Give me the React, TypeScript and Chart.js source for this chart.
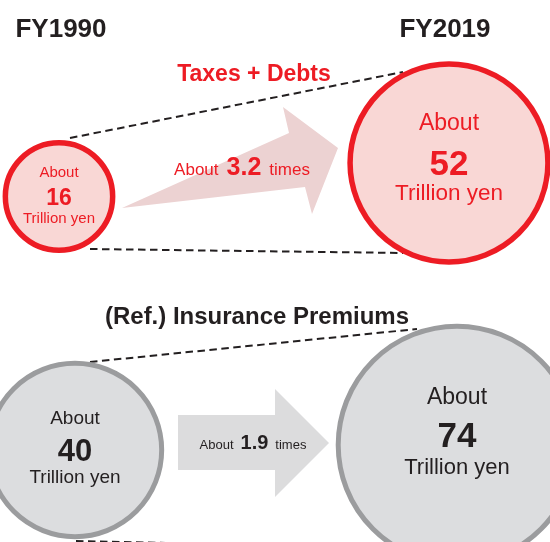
import React, { useEffect, useRef } from "react";
import { Chart, registerables } from "chart.js";

Chart.register(...registerables);

// ---- data ----
const years = ["FY1990", "FY2019"];
const groupTitles = ["Taxes + Debts", "(Ref.) Insurance Premiums"];
const taxesAndDebts = [16, 52]; // trillion yen
const insurancePremiums = [40, 74]; // trillion yen
const multiples = ["3.2", "1.9"];
const aboutLabel = "About";
const unitLabel = "Trillion yen";
const timesLabel = "times";

// ---- layout / style ----
const W = 550;
const H = 542;
const K = 14.1; // outer radius per sqrt(trillion yen)
const FONT = "'Liberation Sans', Arial, Helvetica, sans-serif";
const RED = "#ed1c24";
const RED_FILL = "#f9d7d5";
const RED_ARROW = "#ecd2d2";
const GREY = "#9b9c9e";
const GREY_FILL = "#dcdddf";
const GREY_ARROW = "#dcdcdd";
const DARK = "#231f20";

const redCenters = [
  { x: 59, y: 196.5 },
  { x: 449, y: 163 },
];
const greyCenters = [
  { x: 75, y: 450 },
  { x: 457, y: 445 },
];
const RED_BW = 5.5;
const GREY_BW = 5;

// text offsets relative to bubble centre: [baseline offset, font size]
const labelStyles = [
  [
    { about: [-19.5, 15], value: [8.5, 23], unit: [26.5, 15] },
    { about: [-33, 23], value: [12, 35], unit: [37, 22.5] },
  ],
  [
    { about: [-26, 19], value: [11, 31], unit: [33, 19] },
    { about: [-41, 23], value: [2, 35], unit: [29, 22] },
  ],
];

function font(size: number, bold = false) {
  return `${bold ? "bold " : ""}${size}px ${FONT}`;
}

function poly(ctx: CanvasRenderingContext2D, pts: number[][], color: string) {
  ctx.beginPath();
  ctx.moveTo(pts[0][0], pts[0][1]);
  for (let i = 1; i < pts.length; i++) ctx.lineTo(pts[i][0], pts[i][1]);
  ctx.closePath();
  ctx.fillStyle = color;
  ctx.fill();
}

function dashed(ctx: CanvasRenderingContext2D, a: number[], b: number[]) {
  ctx.save();
  ctx.beginPath();
  ctx.setLineDash([7.5, 4.5]);
  ctx.lineWidth = 2;
  ctx.strokeStyle = DARK;
  ctx.moveTo(a[0], a[1]);
  ctx.lineTo(b[0], b[1]);
  ctx.stroke();
  ctx.restore();
}

function text(
  ctx: CanvasRenderingContext2D,
  s: string,
  x: number,
  y: number,
  f: string,
  color: string,
  align: CanvasTextAlign = "center"
) {
  ctx.font = f;
  ctx.fillStyle = color;
  ctx.textAlign = align;
  ctx.textBaseline = "alphabetic";
  ctx.fillText(s, x, y);
}

function multipleLabel(
  ctx: CanvasRenderingContext2D,
  cx: number,
  y: number,
  mult: string,
  small: number,
  big: number,
  gap: number,
  color: string
) {
  const parts = [
    { s: aboutLabel, f: font(small) },
    { s: mult, f: font(big, true) },
    { s: timesLabel, f: font(small) },
  ];
  const widths = parts.map((p) => {
    ctx.font = p.f;
    return ctx.measureText(p.s).width;
  });
  const total = widths.reduce((a, b) => a + b, 0) + gap * 2;
  let x = cx - total / 2;
  parts.forEach((p, i) => {
    text(ctx, p.s, x, y, p.f, color, "left");
    x += widths[i] + gap;
  });
}

const decorPlugin = {
  id: "decor",
  beforeDatasetsDraw(chart: any) {
    const ctx: CanvasRenderingContext2D = chart.ctx;
    ctx.save();
    // red arrow
    poly(
      ctx,
      [
        [122, 208],
        [289, 133],
        [283, 107],
        [338, 148],
        [312, 214],
        [305, 187],
      ],
      RED_ARROW
    );
    // grey arrow
    poly(
      ctx,
      [
        [178, 415],
        [275, 415],
        [275, 389],
        [329, 443],
        [275, 497],
        [275, 470],
        [178, 470],
      ],
      GREY_ARROW
    );
    // dashed guide lines
    dashed(ctx, [70, 138], [403, 72]);
    dashed(ctx, [90, 249], [403, 253]);
    dashed(ctx, [90, 362], [417, 329]);
    dashed(ctx, [76, 541], [300, 546]);
    ctx.restore();
  },
  afterDatasetsDraw(chart: any) {
    const ctx: CanvasRenderingContext2D = chart.ctx;
    ctx.save();
    // year headers
    text(ctx, years[0], 61, 37, font(26, true), DARK);
    text(ctx, years[1], 445, 37, font(26, true), DARK);
    // group titles
    text(ctx, groupTitles[0], 254, 81, font(23, true), RED);
    text(ctx, groupTitles[1], 257, 324, font(24, true), DARK);

    const groups = [taxesAndDebts, insurancePremiums];
    const colors = [RED, DARK];
    groups.forEach((vals, di) => {
      const meta = chart.getDatasetMeta(di);
      vals.forEach((v, j) => {
        const el = meta.data[j];
        const st = labelStyles[di][j];
        const c = colors[di];
        text(ctx, aboutLabel, el.x, el.y + st.about[0], font(st.about[1]), c);
        text(ctx, String(v), el.x, el.y + st.value[0], font(st.value[1], true), c);
        text(ctx, unitLabel, el.x, el.y + st.unit[0], font(st.unit[1]), c);
      });
    });

    multipleLabel(ctx, 242, 175, multiples[0], 17, 25, 8, RED);
    multipleLabel(ctx, 253, 449, multiples[1], 13, 20, 7, DARK);
    ctx.restore();
  },
};

export default function App() {
  const ref = useRef<HTMLCanvasElement | null>(null);
  useEffect(() => {
    document.body.style.margin = "0";
    const canvas = ref.current;
    if (!canvas) return;
    const toBubbles = (vals: number[], centers: { x: number; y: number }[], bw: number) =>
      vals.map((v, i) => ({ x: centers[i].x, y: centers[i].y, r: K * Math.sqrt(v) - bw / 2 }));
    const chart = new Chart(canvas, {
      type: "bubble",
      data: {
        datasets: [
          {
            label: groupTitles[0],
            data: toBubbles(taxesAndDebts, redCenters, RED_BW),
            backgroundColor: RED_FILL,
            borderColor: RED,
            borderWidth: RED_BW,
            clip: false,
          } as any,
          {
            label: groupTitles[1],
            data: toBubbles(insurancePremiums, greyCenters, GREY_BW),
            backgroundColor: GREY_FILL,
            borderColor: GREY,
            borderWidth: GREY_BW,
            clip: false,
          } as any,
        ],
      },
      options: {
        animation: false,
        responsive: false,
        events: [],
        layout: { padding: 0, autoPadding: false },
        plugins: { legend: { display: false }, tooltip: { enabled: false } },
        scales: {
          x: { type: "linear", min: 0, max: W, display: false },
          y: { type: "linear", min: 0, max: H, reverse: true, display: false },
        },
      },
      plugins: [decorPlugin],
    });
    return () => chart.destroy();
  }, []);
  return (
    <div style={{ width: W, height: H, background: "#fff" }}>
      <canvas ref={ref} width={W} height={H} style={{ display: "block" }} />
    </div>
  );
}
